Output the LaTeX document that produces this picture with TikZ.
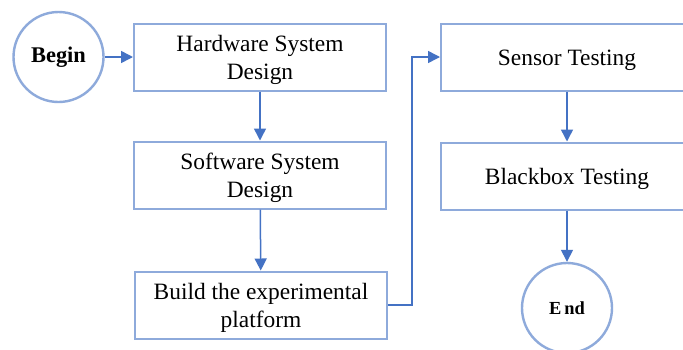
\documentclass[tikz,border=0pt]{standalone}
\usepackage{fontspec}
\setmainfont{Liberation Serif}
\usetikzlibrary{arrows.meta,positioning}
\definecolor{boxline}{HTML}{8EAADB}
\definecolor{flowline}{HTML}{4472C4}
% box text: centred lines, set a little below the box centre
\newcommand\steptext[1]{\raisebox{-3bp}[\height][\depth]{\begin{tabular}{@{}c@{}}#1\end{tabular}}}
\tikzset{
  stepbox/.style={draw=boxline, line width=2bp, fill=white,
    minimum width=252bp, minimum height=67bp, inner sep=0pt,
    font=\fontsize{23.5}{28}\selectfont},
  terminal/.style={draw=boxline, line width=2.4bp, circle, fill=white,
    minimum size=90bp, inner sep=0pt, font=\bfseries\fontsize{22.5}{26}\selectfont},
  flow/.style={draw=flowline, line width=1.5bp,
    -{Triangle[length=12bp,width=12bp]}}
}
\begin{document}
\begin{tikzpicture}[x=1bp,y=-1bp]
  \useasboundingbox (0,0) rectangle (683,349);
  \clip (0,0) rectangle (683,349);
  \fill[white] (0,0) rectangle (683,349);

  \node[terminal] (begin) at (58.5,57) {Begin};
  \node[stepbox] (hw) at (260,57) {\steptext{Hardware System\\Design}};
  \node[stepbox] (sw) at (260,175) {\steptext{Software System\\Design}};
  \node[stepbox] (build) at (261,305) {\steptext{Build the experimental\\platform}};
  \node[stepbox] (sensor) at (567,57) {\steptext{Sensor Testing}};
  \node[stepbox] (black) at (567,176) {\steptext{Blackbox Testing}};
  \node[terminal, font=\bfseries\fontsize{18.5}{22}\selectfont] (end) at (567,308) {E\kern3bp nd};

  \draw[flow] (begin) -- (hw);
  \draw[flow] (hw) -- (sw);
  \draw[flow] (sw) -- (build);
  \coordinate (turn) at (412,305);
  \draw[flow] (build.east) -- (turn) |- (sensor.west);
  \draw[flow] (sensor) -- (black);
  \draw[flow] (black) -- (end);
\end{tikzpicture}
\end{document}
